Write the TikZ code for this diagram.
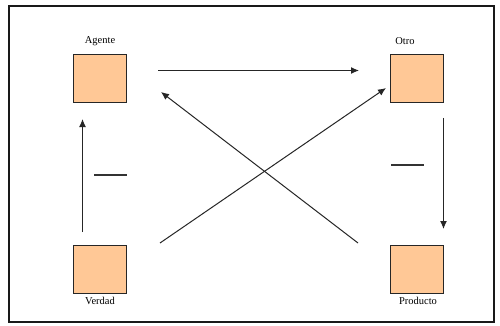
\documentclass[tikz,border=0pt]{standalone}
\usepackage{fontspec}
\setmainfont{Liberation Serif}
\usetikzlibrary{arrows.meta}
\definecolor{peach}{RGB}{255,200,150}
\begin{document}
\begin{tikzpicture}[x=1pt,y=-1pt,
  box/.style={draw=black!85,line width=1pt,fill=peach,minimum width=53pt,minimum height=48pt,inner sep=0pt},
  lbl/.style={font=\fontsize{10.5}{12}\selectfont,inner sep=0pt},
  conn/.style={draw=black!85,line width=1pt,-{Latex[length=8pt,width=7pt]}},
  tick/.style={draw=black!80,line width=1.1pt}]
\useasboundingbox (0,0) rectangle (500,326);
\fill[white] (0,0) rectangle (500,326);
\draw[black!90,line width=2pt] (9,6) rectangle (494,322);
% squares
\node[box] (agente) at (100,78.5) {};
\node[box] (otro) at (416.5,78.5) {};
\node[box] (verdad) at (100,269) {};
\node[box] (producto) at (416.5,269) {};
% labels
\node[lbl] (lagente) at (100,41) {Agente};
\node[lbl] (lotro) at (405,41) {Otro};
\node[lbl] (lverdad) at (100,301) {Verdad};
\node[lbl] (lproducto) at (418,301) {Producto};
% arrow ends
\coordinate (a1) at (158,70.5);
\coordinate (a2) at (359,70.5);
\coordinate (b1) at (82.5,232);
\coordinate (b2) at (82.5,119);
\coordinate (c1) at (443.5,118);
\coordinate (c2) at (443.5,229);
\coordinate (d1) at (160,243);
\coordinate (d2) at (386,88);
\coordinate (e1) at (358,243);
\coordinate (e2) at (161,92);
\draw[conn] (a1) -- (a2);
\draw[conn] (b1) -- (b2);
\draw[conn] (c1) -- (c2);
\draw[conn] (d1) -- (d2);
\draw[conn] (e1) -- (e2);
% short marks
\coordinate (t1) at (94,175);
\coordinate (t2) at (127,175);
\coordinate (u1) at (391,165);
\coordinate (u2) at (424,165);
\draw[tick] (t1) -- (t2);
\draw[tick] (u1) -- (u2);
\end{tikzpicture}
\end{document}
